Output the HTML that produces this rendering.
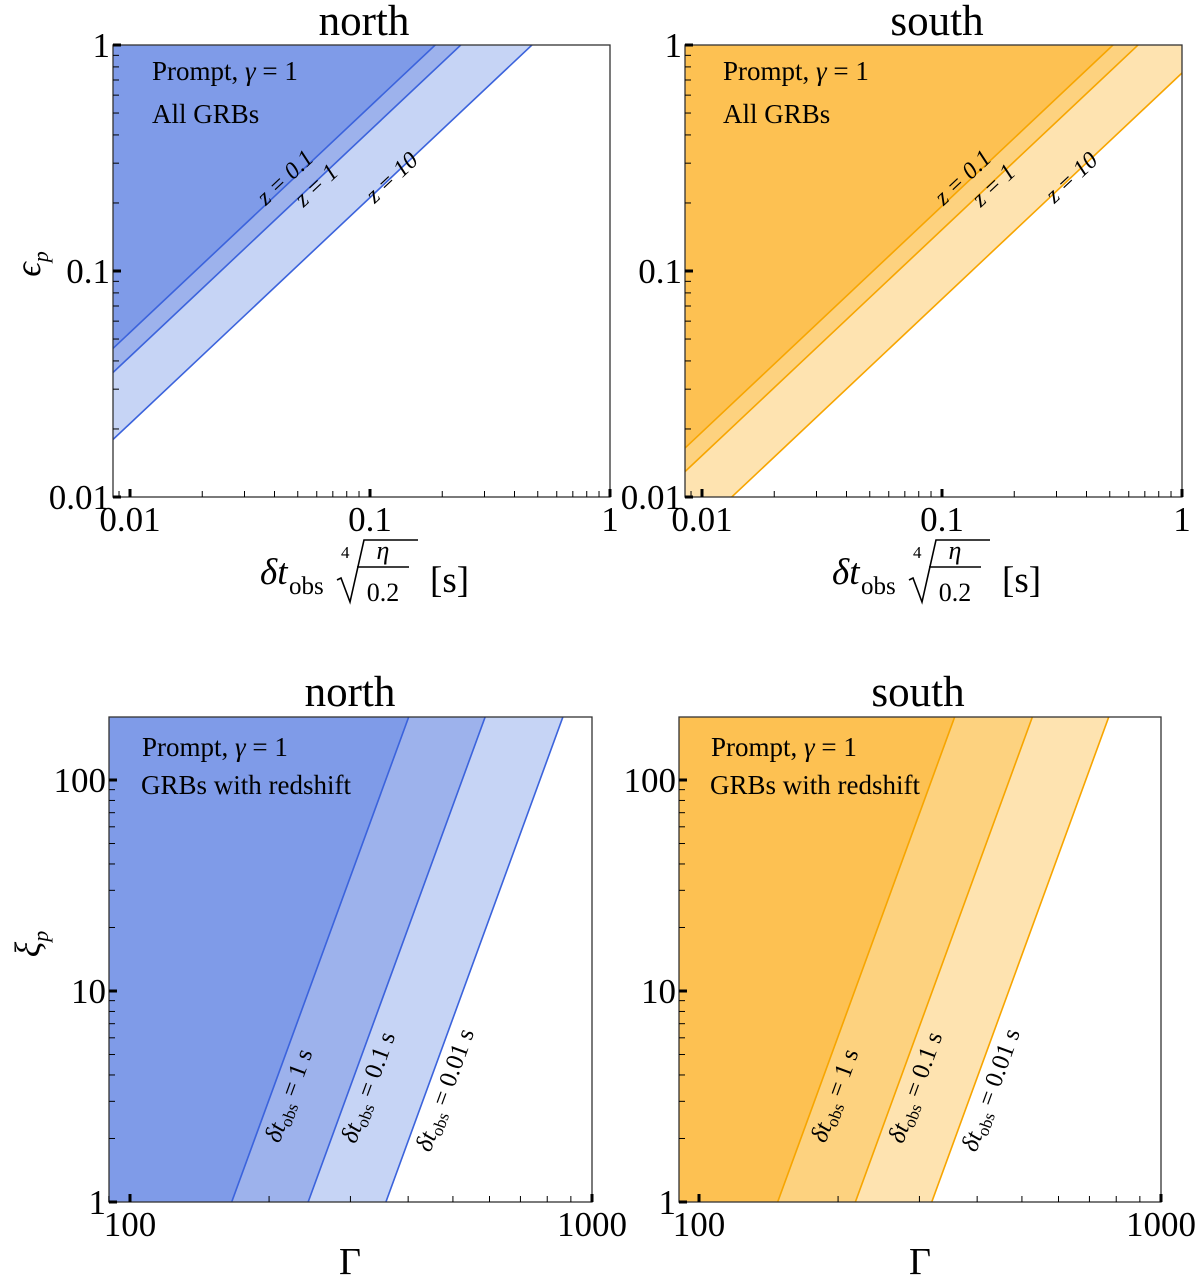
<!DOCTYPE html>
<html><head><meta charset="utf-8"><style>
html,body{margin:0;padding:0;background:#fff;overflow:hidden;width:1200px;height:1282px;}
svg{display:block;}
svg text{font-family:"Liberation Serif","DejaVu Serif",serif;fill:#000;}
</style></head><body>
<svg id="chart" width="1200" height="1282" viewBox="0 0 1200 1282" xmlns="http://www.w3.org/2000/svg">
<defs>
<clipPath id="c1"><rect x="113" y="45" width="497" height="452"/></clipPath>
<clipPath id="c2"><rect x="685" y="45" width="497" height="452"/></clipPath>
<clipPath id="c3"><rect x="109" y="717" width="483" height="485"/></clipPath>
<clipPath id="c4"><rect x="679" y="717" width="482" height="485"/></clipPath>
</defs>
</svg>
<script>
// data
const zLabels = ['0.1', '1', '10'];
const topCutoffsNorth = [0.187, 0.239, 0.473];
const topCutoffsSouth = [0.516, 0.656, 1.33];
const dtLabels = ['1', '0.1', '0.01'];
const gamma0North = [166, 243, 358];
const gamma0South = [148, 218, 319];
const topXTicks = [0.01, 0.1, 1];
const topXTickLabels = ['0.01', '0.1', '1'];
const topYTicks = [1, 0.1, 0.01];
const topYTickLabels = ['1', '0.1', '0.01'];
const botXTicks = [100, 1000];
const botXTickLabels = ['100', '1000'];
const botYTicks = [100, 10, 1];
const botYTickLabels = ['100', '10', '1'];

const NS = 'http://www.w3.org/2000/svg';
const svg = document.getElementById('chart');
const L = Math.log10;
function mk(tag, attrs, parent) {
  const e = document.createElementNS(NS, tag);
  for (const k in attrs) e.setAttribute(k, attrs[k]);
  (parent || svg).appendChild(e);
  return e;
}
const blue = {fills: ['#c6d4f5', '#9db2ec', '#7f9be8'], line: '#3b63dc'};
const orange = {fills: ['#fee3b0', '#fdd27f', '#fdc152'], line: '#f7a500'};

function axes(P) {
  const sx = v => P.x0 + P.dx * (L(v) - P.lx0);
  const sy = v => P.y0 - P.dy * (L(v) - P.ly0);
  return {sx, sy};
}

function drawFrame(P, sx, sy, xt, xtl, yt, ytl, name) {
  const g = mk('g', {});
  
  
  mk('rect', {x: P.bx, y: P.by, width: P.bw, height: P.bh, fill: 'none', stroke: '#333', 'stroke-width': 1.3}, g);
  const bottom = P.by + P.bh;
  const xd0 = Math.floor(P.xmin), xd1 = Math.ceil(P.xmax);
  for (let d = xd0; d <= xd1; d++) for (let m = 1; m <= 9; m++) {
    const v = m * Math.pow(10, d); const x = sx(v);
    if (x < P.bx - 0.5 || x > P.bx + P.bw + 0.5) continue;
    const major = m === 1;
    mk('line', {x1: x, x2: x, y1: bottom, y2: bottom - (major ? 8 : 6), stroke: '#000', 'stroke-width': major ? 3 : 1}, g);
  }
  const yd0 = Math.floor(P.ymin), yd1 = Math.ceil(P.ymax);
  for (let d = yd0; d <= yd1; d++) for (let m = 1; m <= 9; m++) {
    const v = m * Math.pow(10, d); const y = sy(v);
    if (y < P.by - 0.5 || y > bottom + 0.5) continue;
    const major = m === 1;
    mk('line', {x1: P.bx, x2: P.bx + (major ? 8 : 6), y1: y, y2: y, stroke: '#000', 'stroke-width': major ? 3 : 1}, g);
  }
  xt.forEach((v, i) => {
    const t = mk('text', {x: sx(v), y: bottom + 34, 'font-size': 35, 'text-anchor': 'middle'}, g);
    
    
    t.textContent = xtl[i];
  });
  yt.forEach((v, i) => {
    const t = mk('text', {x: P.bx - 3, y: sy(v) + 12, 'font-size': 35, 'text-anchor': 'end'}, g);
    
    
    t.textContent = ytl[i];
  });
}

function topPanel(P, cut, col, clip, name) {
  const {sx, sy} = axes(P);
  const g = mk('g', {'clip-path': 'url(#' + clip + ')'});
  
  
  const order = [2, 1, 0];
  order.forEach((i, k) => {
    const c = cut[i];
    const a = 1e-4, b = 100;
    const pts = [[sx(a), sy(a / c)], [sx(b), sy(b / c)], [sx(b), sy(1e6)], [sx(a), sy(1e6)]];
    const p = mk('polygon', {points: pts.map(q => q.join(',')).join(' '), fill: col.fills[k]}, g);
    
    
  });
  cut.forEach((c, i) => {
    const a = 1e-4, b = 100;
    const l = mk('line', {x1: sx(a), y1: sy(a / c), x2: sx(b), y2: sy(b / c), stroke: col.line, 'stroke-width': 1.6}, g);
    
    
  });
  const ang = -Math.atan2(P.dy, P.dx) * 180 / Math.PI;
  const off = [-10, 4, 0];
  const ev = [0.26, 0.24, 0.26];
  cut.forEach((c, i) => {
    const x = sx(c * ev[i]) + off[i], y = sy(ev[i]);
    const t = mk('text', {x: x, y: y + 8, 'font-size': 24, 'font-style': 'italic', 'text-anchor': 'middle', transform: 'rotate(' + ang + ' ' + x + ' ' + y + ')'});
    
    
    t.textContent = 'z = ' + zLabels[i];
  });
  drawFrame(P, sx, sy, topXTicks, topXTickLabels, topYTicks, topYTickLabels, name);
}

function botPanel(P, g0, col, clip, name) {
  const {sx, sy} = axes(P);
  const g = mk('g', {'clip-path': 'url(#' + clip + ')'});
  
  
  const order = [2, 1, 0];
  const lo = 0.1, hi = 1e4;
  order.forEach((i, k) => {
    const G = g0[i];
    const pts = [[sx(G * Math.pow(lo, 1 / 6)), sy(lo)], [sx(G * Math.pow(hi, 1 / 6)), sy(hi)], [sx(1), sy(hi)], [sx(1), sy(lo)]];
    const p = mk('polygon', {points: pts.map(q => q.join(',')).join(' '), fill: col.fills[k]}, g);
    
    
  });
  g0.forEach((G, i) => {
    const l = mk('line', {x1: sx(G * Math.pow(lo, 1 / 6)), y1: sy(lo), x2: sx(G * Math.pow(hi, 1 / 6)), y2: sy(hi), stroke: col.line, 'stroke-width': 1.6}, g);
    
    
  });
  const ang = -Math.atan2(6 * P.dy, P.dx) * 180 / Math.PI;
  const lv = [3.2, 3.5, 3.4];
  g0.forEach((G, i) => {
    const x = sx(G * Math.pow(lv[i], 1 / 6)) + 18, y = sy(lv[i]);
    const t = mk('text', {x: x, y: y + 8, 'font-size': 25, 'text-anchor': 'middle', transform: 'rotate(' + ang + ' ' + x + ' ' + y + ')'});
    
    
    t.innerHTML = '<tspan font-style="italic">δt</tspan><tspan font-size="17" dy="5">obs</tspan><tspan dy="-5"> = ' + dtLabels[i] + ' s</tspan>';
  });
  drawFrame(P, sx, sy, botXTicks, botXTickLabels, botYTicks, botYTickLabels, name);
}

const TL = {x0: 130, dx: 240, lx0: -2, y0: 45, dy: 226, ly0: 0, bx: 113, by: 45, bw: 497, bh: 452, xmin: -2.07, xmax: 0, ymin: -2, ymax: 0};
const TR = Object.assign({}, TL, {x0: 702, bx: 685});
const BL = {x0: 130, dx: 462, lx0: 2, y0: 1202, dy: 211, ly0: 0, bx: 109, by: 717, bw: 483, bh: 485, xmin: 1.95, xmax: 3, ymin: 0, ymax: 2.3};
const BR = Object.assign({}, BL, {x0: 699, bx: 679, bw: 482});

topPanel(TL, topCutoffsNorth, blue, 'c1', 'top-north');
topPanel(TR, topCutoffsSouth, orange, 'c2', 'top-south');
botPanel(BL, gamma0North, blue, 'c3', 'bottom-north');
botPanel(BR, gamma0South, orange, 'c4', 'bottom-south');

function txt(x, y, s, size, name, extra) {
  const t = mk('text', Object.assign({x: x, y: y, 'font-size': size}, extra || {}));
  
  
  t.innerHTML = s;
  return t;
}
txt(364, 35, 'north', 43, 'title-top-north', {'text-anchor': 'middle'});
txt(937, 35, 'south', 43, 'title-top-south', {'text-anchor': 'middle'});
txt(350, 706, 'north', 43, 'title-bottom-north', {'text-anchor': 'middle'});
txt(918, 706, 'south', 43, 'title-bottom-south', {'text-anchor': 'middle'});
const gam = 'Prompt, <tspan font-style="italic">γ</tspan> = 1';
txt(152, 80, gam, 27, 'annotation-prompt');
txt(152, 123, 'All GRBs', 27, 'annotation-sample');
txt(723, 80, gam, 27, 'annotation-prompt');
txt(723, 123, 'All GRBs', 27, 'annotation-sample');
txt(142, 756, gam, 27, 'annotation-prompt');
txt(141, 794, 'GRBs with redshift', 27, 'annotation-sample');
txt(711, 756, gam, 27, 'annotation-prompt');
txt(710, 794, 'GRBs with redshift', 27, 'annotation-sample');
txt(38, 282, '<tspan font-style="italic">ϵ</tspan><tspan font-size="22" font-style="italic" dy="8">p</tspan>', 36, 'y-axis-title-top', {'text-anchor': 'middle', transform: 'rotate(-90 30 272)'});
txt(38, 962, '<tspan font-style="italic">ξ</tspan><tspan font-size="22" font-style="italic" dy="8">p</tspan>', 36, 'y-axis-title-bottom', {'text-anchor': 'middle', transform: 'rotate(-90 30 952)'});
txt(350, 1274, 'Γ', 38, 'x-axis-title-bottom-north', {'text-anchor': 'middle'});
txt(920, 1274, 'Γ', 38, 'x-axis-title-bottom-south', {'text-anchor': 'middle'});
[0, 572].forEach(o => {
  const g = mk('g', {transform: 'translate(' + o + ',0)'});
  
  
  const t1 = mk('text', {x: 260, y: 584, 'font-size': 37, 'font-style': 'italic'}, g); t1.textContent = 'δt';
  const t2 = mk('text', {x: 289, y: 594, 'font-size': 25}, g); t2.textContent = 'obs';
  const t3 = mk('text', {x: 341, y: 558, 'font-size': 17}, g); t3.textContent = '4';
  mk('polyline', {points: '337,580 341,578 350,602 364,540 418,540', fill: 'none', stroke: '#000', 'stroke-width': 1.6}, g);
  const t4 = mk('text', {x: 383, y: 559, 'font-size': 26, 'font-style': 'italic', 'text-anchor': 'middle'}, g); t4.textContent = 'η';
  mk('line', {x1: 357, x2: 409, y1: 567, y2: 567, stroke: '#000', 'stroke-width': 1.4}, g);
  const t5 = mk('text', {x: 383, y: 601, 'font-size': 26, 'text-anchor': 'middle'}, g); t5.textContent = '0.2';
  const t6 = mk('text', {x: 430, y: 592, 'font-size': 37}, g); t6.textContent = '[s]';
});
</script>
</body></html>
